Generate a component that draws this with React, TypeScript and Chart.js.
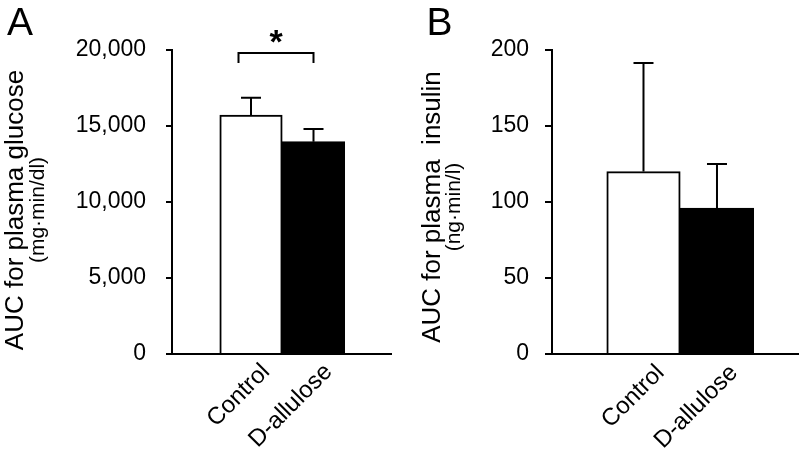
import React, { useEffect, useRef } from 'react';
import { Chart, registerables } from 'chart.js';

Chart.register(...registerables);

// ---- data ----
const categories = ['Control', 'D-allulose'];
const glucoseMeans = [15720, 13970];
const glucoseErrors = [1140, 830];
const insulinMeans = [120, 96];
const insulinErrors = [71.5, 29];
const glucoseTicks = [0, 5000, 10000, 15000, 20000];
const insulinTicks = [0, 50, 100, 150, 200];
const barColors = ['#ffffff', '#000000'];
const sigBracketX = [-0.2, 1];
const sigBracketY = [19800, 19150];
const sigStarY = 20850;
const sigLabel = '*';

const FONT = "'Liberation Sans', Arial, Helvetica, sans-serif";

type TitleLine = { text: string; size: number; x: number };

type PanelProps = {
  letter: string;
  letterX: number;
  left: number;
  width: number;
  means: number[];
  errors: number[];
  ticks: number[];
  xMin: number;
  xMax: number;
  barThickness: number;
  yWidth: number;
  tickLen: number;
  tickPad: number;
  padRight: number;
  labelOffset: number;
  labelPad: number;
  titleLines: TitleLine[];
  titleCenterOffset: number;
  showSig: boolean;
};

function Panel(p: PanelProps) {
  const ref = useRef<HTMLCanvasElement | null>(null);

  useEffect(() => {
    if (!ref.current) return;
    const yMax = p.ticks[p.ticks.length - 1];
    const step = p.ticks[1] - p.ticks[0];

    const errorBars = {
      id: 'errorBars',
      afterDatasetsDraw(chart: any) {
        const { ctx } = chart;
        const ys = chart.scales.y;
        const meta = chart.getDatasetMeta(0);
        ctx.save();
        ctx.strokeStyle = '#000';
        ctx.lineWidth = 2;
        meta.data.forEach((bar: any, i: number) => {
          const top = ys.getPixelForValue(p.means[i] + p.errors[i]);
          ctx.beginPath();
          ctx.moveTo(bar.x, bar.y);
          ctx.lineTo(bar.x, top);
          ctx.moveTo(bar.x - 10, top);
          ctx.lineTo(bar.x + 10, top);
          ctx.stroke();
        });
        ctx.restore();
      },
    };

    const annotations = {
      id: 'annotations',
      afterDraw(chart: any) {
        const { ctx, chartArea } = chart;
        const xs = chart.scales.x;
        const ys = chart.scales.y;
        ctx.save();
        ctx.fillStyle = '#000';
        // panel letter
        ctx.font = `39px ${FONT}`;
        ctx.textAlign = 'left';
        ctx.textBaseline = 'alphabetic';
        ctx.fillText(p.letter, p.letterX, 35);
        // y axis title lines
        const cy = (chartArea.top + chartArea.bottom) / 2 + p.titleCenterOffset;
        p.titleLines.forEach((ln) => {
          ctx.save();
          ctx.translate(ln.x, cy);
          ctx.rotate(-Math.PI / 2);
          ctx.font = `${ln.size}px ${FONT}`;
          ctx.textAlign = 'center';
          ctx.textBaseline = 'middle';
          ctx.fillText(ln.text, 0, 0);
          ctx.restore();
        });
        // significance bracket
        if (p.showSig) {
          const x0 = xs.getPixelForValue(sigBracketX[0]);
          const x1 = xs.getPixelForValue(sigBracketX[1]);
          const yT = ys.getPixelForValue(sigBracketY[0]);
          const yB = ys.getPixelForValue(sigBracketY[1]);
          ctx.strokeStyle = '#000';
          ctx.lineWidth = 2;
          ctx.beginPath();
          ctx.moveTo(x0, yB);
          ctx.lineTo(x0, yT);
          ctx.lineTo(x1, yT);
          ctx.lineTo(x1, yB);
          ctx.stroke();
          ctx.font = `bold 34px ${FONT}`;
          ctx.textAlign = 'center';
          ctx.textBaseline = 'middle';
          ctx.fillText(sigLabel, (x0 + x1) / 2, ys.getPixelForValue(sigStarY) + 7);
        }
        ctx.restore();
      },
    };

    const chart = new Chart(ref.current, {
      type: 'bar',
      data: {
        datasets: [
          {
            data: p.means.map((v, i) => ({ x: i, y: v })),
            backgroundColor: barColors,
            borderColor: '#000',
            borderWidth: 2,
            barThickness: p.barThickness,
          } as any,
        ],
      },
      options: {
        responsive: false,
        animation: false,
        devicePixelRatio: 1,
        layout: { padding: { top: 50, right: p.padRight, left: 0, bottom: 0 } },
        plugins: { legend: { display: false }, tooltip: { enabled: false }, title: { display: false } },
        scales: {
          x: {
            type: 'linear',
            offset: false,
            bounds: 'data',
            min: p.xMin,
            max: p.xMax,
            grid: { display: false, drawTicks: false, offset: false },
            border: { display: true, color: '#000', width: 2 },
            afterBuildTicks: (s: any) => {
              s.ticks = categories.map((_, i) => ({ value: i }));
            },
            afterFit: (s: any) => {
              s.height = 104;
            },
            ticks: {
              autoSkip: false,
              minRotation: 45,
              maxRotation: 45,
              padding: p.labelPad,
              labelOffset: p.labelOffset,
              color: '#000',
              font: { family: FONT, size: 24 },
              callback: (v: any) => categories[v as number] ?? '',
            },
          },
          y: {
            type: 'linear',
            min: 0,
            max: yMax,
            grid: {
              display: true,
              drawOnChartArea: false,
              drawTicks: true,
              tickLength: p.tickLen,
              color: '#000',
              lineWidth: 2,
            },
            border: { display: true, color: '#000', width: 2 },
            afterFit: (s: any) => {
              s.width = p.yWidth;
            },
            afterBuildTicks: (s: any) => {
              s.ticks = p.ticks.map((v) => ({ value: v }));
            },
            ticks: {
              stepSize: step,
              padding: p.tickPad,
              color: '#000',
              font: { family: FONT, size: 23 },
              callback: (v: any) => Number(v).toLocaleString('en-US'),
            },
          },
        },
      } as any,
      plugins: [errorBars, annotations],
    });
    return () => chart.destroy();
  }, []);

  return (
    <canvas
      ref={ref}
      width={p.width}
      height={458}
      style={{ position: 'absolute', left: p.left, top: 0, width: p.width, height: 458, display: 'block' }}
    />
  );
}

export default function App() {
  return (
    <div style={{ position: 'fixed', left: 0, top: 0, width: 799, height: 458, background: '#fff', overflow: 'hidden' }}>
      <Panel
        letter="A"
        letterX={7}
        left={0}
        width={400}
        means={glucoseMeans}
        errors={glucoseErrors}
        ticks={glucoseTicks}
        xMin={-1.264}
        xMax={2.24}
        barThickness={62.5}
        yWidth={172}
        tickLen={6}
        tickPad={20}
        padRight={9}
        labelOffset={15}
        labelPad={4}
        titleLines={[
          { text: 'AUC for plasma glucose', size: 26, x: 16 },
          { text: '(mg·min/dl)', size: 21, x: 38 },
        ]}
        titleCenterOffset={8}
        showSig={true}
      />
      <Panel
        letter="B"
        letterX={26.5}
        left={400}
        width={399}
        means={insulinMeans}
        errors={insulinErrors}
        ticks={insulinTicks}
        xMin={-1.245}
        xMax={2.116}
        barThickness={73.5}
        yWidth={152}
        tickLen={7}
        tickPad={16}
        padRight={0}
        labelOffset={17}
        labelPad={5}
        titleLines={[
          { text: 'AUC for plasma  insulin', size: 26, x: 32.5 },
          { text: '(ng·min/l)', size: 21, x: 54.5 },
        ]}
        titleCenterOffset={5}
        showSig={false}
      />
    </div>
  );
}
